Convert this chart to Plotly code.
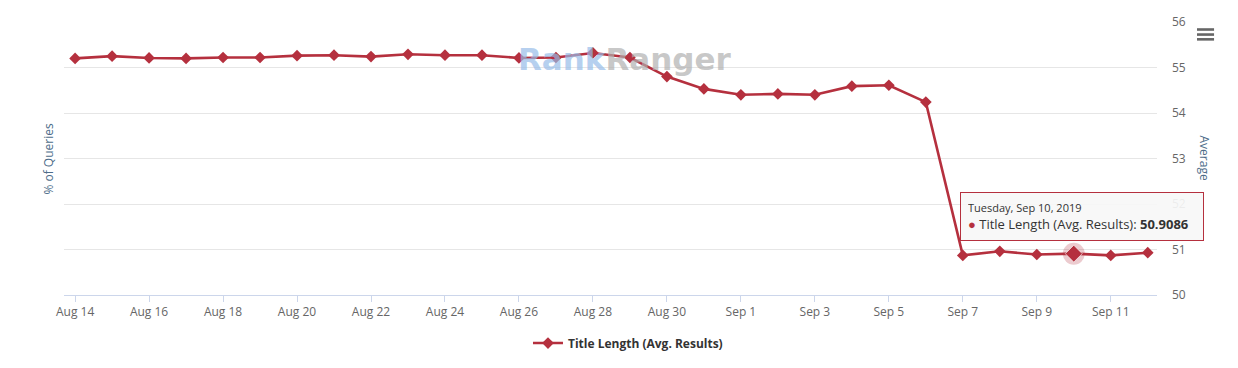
import plotly.graph_objects as go
import pandas as pd

# ---- data ----
dates = pd.date_range("2019-08-14", "2019-09-12", freq="D")
values = [55.20, 55.25, 55.21, 55.20, 55.22, 55.22, 55.26, 55.27, 55.24, 55.29,
          55.27, 55.27, 55.21, 55.22, 55.32, 55.22, 54.80, 54.53, 54.40, 54.42,
          54.40, 54.59, 54.61, 54.24, 50.87, 50.96, 50.89, 50.9086, 50.87, 50.93]
series_name = "Title Length (Avg. Results)"
highlight_idx = 27  # Sep 10
y_ticks = [50, 51, 52, 53, 54, 55, 56]

RED = "#b5303e"
FONT = "Open Sans"

fig = go.Figure()

fig.add_trace(go.Scatter(
    x=dates, y=values, mode="lines+markers", name=series_name,
    line=dict(color=RED, width=2.6),
    marker=dict(symbol="diamond", size=9, color=RED),
    hoverinfo="skip",
))

# hover halo + enlarged marker
fig.add_trace(go.Scatter(
    x=[dates[highlight_idx]], y=[values[highlight_idx]], mode="markers",
    marker=dict(symbol="circle", size=22, color="rgba(181,48,62,0.25)"),
    showlegend=False, hoverinfo="skip",
))
fig.add_trace(go.Scatter(
    x=[dates[highlight_idx]], y=[values[highlight_idx]], mode="markers",
    marker=dict(symbol="diamond", size=13, color=RED,
                line=dict(color="rgba(255,255,255,0.6)", width=1)),
    showlegend=False, hoverinfo="skip",
))

hl_date = dates[highlight_idx]
tooltip = (
    f"<span style='font-size:11px;color:#333'>{hl_date.strftime('%A')}, "
    f"{hl_date.strftime('%b')} {hl_date.day}, {hl_date.year}</span><br>"
    f"<span style='color:{RED}'>●</span> {series_name}: <b>{values[highlight_idx]:.4f}</b>"
)

annotations = [
    # watermark
    dict(text="<b><span style='color:rgba(150,188,232,0.7)'>Rank</span>"
              "<span style='color:rgba(175,175,175,0.7)'>Ranger</span></b>",
         xref="paper", yref="paper", x=0.513, y=0.864,
         xanchor="center", yanchor="middle", showarrow=False,
         font=dict(family="DejaVu Sans", size=31, color="#bbb"),
         ),
    # axis titles
    dict(text="% of Queries", xref="paper", yref="paper", x=-0.0146, y=0.5,
         xanchor="center", yanchor="middle", textangle=-90, showarrow=False,
         font=dict(family=FONT, size=12, color="#4d6d8a")),
    dict(text="Average", xref="paper", yref="paper", x=1.0439, y=0.5,
         xanchor="center", yanchor="middle", textangle=90, showarrow=False,
         font=dict(family=FONT, size=12, color="#4d6d8a")),
    # tooltip
    dict(text=tooltip, x=dates[highlight_idx], y=values[highlight_idx],
         xref="x", yref="y", xanchor="left", yanchor="bottom",
         xshift=-114, yshift=13, showarrow=False, align="left",
         width=228,
         bgcolor="rgba(247,247,247,0.92)", bordercolor=RED, borderwidth=1,
         borderpad=7,
         font=dict(family=FONT, size=13, color="#333")),
]

shapes = []
# hamburger menu icon
for yy in (0.9725, 0.954, 0.9365):
    shapes.append(dict(type="line", xref="paper", yref="paper",
                       x0=1.0366, x1=1.0522, y0=yy, y1=yy,
                       line=dict(color="#666", width=2.6)))

# page body has an 8px margin, so the figure is 8px smaller and margins shifted
fig.update_layout(
    width=1230, height=360,
    margin=dict(l=56, r=81, t=14, b=73, autoexpand=False),
    paper_bgcolor="white", plot_bgcolor="white",
    font=dict(family=FONT, size=12, color="#666"),
    showlegend=True,
    legend=dict(orientation="h", x=0.516, xanchor="center", y=-0.176,
                yanchor="middle", font=dict(family=FONT, size=12, color="#333",
                                            weight="bold")),
    annotations=annotations,
    shapes=shapes,
    xaxis=dict(
        type="date",
        range=[dates[0] - pd.Timedelta(hours=7.2), dates[-1] + pd.Timedelta(hours=6)],
        tick0=dates[0], dtick=2 * 86400000, tickformat="%b %-d",
        showgrid=False, showline=True, linecolor="#ccd6eb", linewidth=1,
        ticks="outside", ticklen=6, tickcolor="#ccd6eb",
        tickfont=dict(size=12, color="#666"), zeroline=False, automargin=False,
    ),
    yaxis=dict(
        range=[50, 56], tickvals=y_ticks, side="right",
        showgrid=True, gridcolor="#e6e6e6", gridwidth=1,
        zeroline=False, showline=False, ticks="",
        ticklabelstandoff=14, automargin=False,
        tickfont=dict(size=12, color="#666"),
    ),
)

fig.write_html("out.html")
